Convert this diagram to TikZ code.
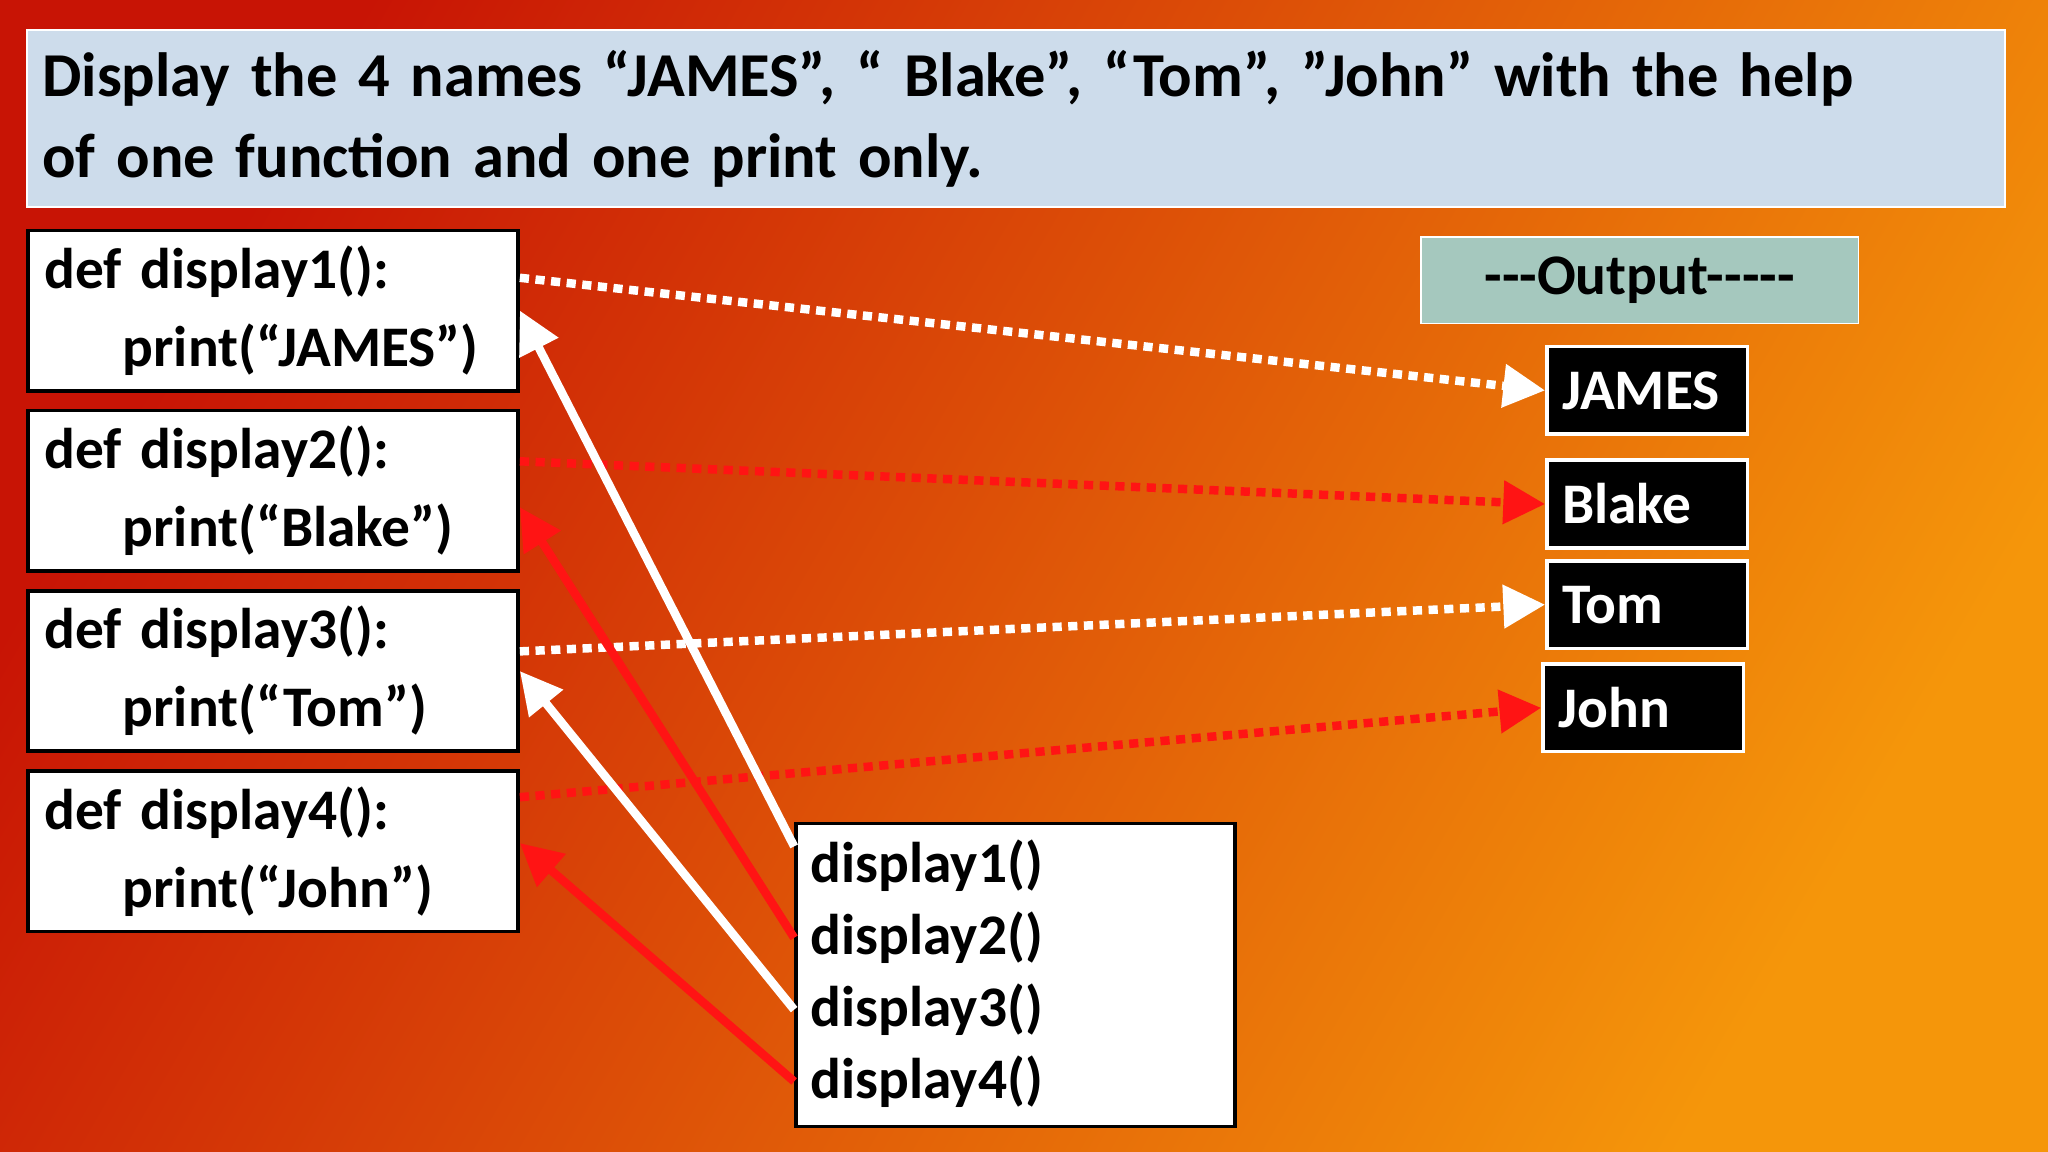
\documentclass[tikz,border=0pt]{standalone}
\usepackage{fontspec}
\setmainfont{Carlito}
\usetikzlibrary{arrows.meta, calc}

\definecolor{titleblue}{RGB}{205,220,235}
\definecolor{outgreen}{RGB}{165,200,190}
\definecolor{arrred}{RGB}{255,20,20}
\definecolor{bgred}{RGB}{200,20,5}
\definecolor{bgorange}{RGB}{245,150,10}

\begin{document}
\begin{tikzpicture}[x = 0.01cm, y = -0.01cm, % pixel-like units
                >= {Triangle[length=0.32cm, width=0.32cm]},
                every node/.style = {font = \bfseries\fontsize{12.5}{15}\selectfont},
                defbox/.style = {draw = black, fill = white, thick, minimum width = 3.75cm,
                    minimum height = 1.22cm, anchor = north west},
                outbox/.style = {draw = white, fill = black, text = white, thick,
                    minimum width = 1.5cm, minimum height = 0.67cm, anchor = north west,
                    align = left, text width = 1.3cm},
                dotline/.style = {line width = 0.065cm, dash pattern = on 0.07cm off 0.05cm, ->},
                callline/.style = {line width = 0.065cm, ->}
            ]

            % background
            \shade[left color = bgred, right color = bgorange, shading angle = 60]
                (0,0) rectangle (1568,882);

            % title
            \node (title) [draw = white, fill = titleblue, anchor = north west,
                minimum width = 15.1cm, minimum height = 1.36cm, align = left,
                text width = 14.9cm, font = \bfseries\fontsize{13.6}{17.6}\selectfont]
                at (20,22) {Display the 4 names “JAMES”, “ Blake”, “Tom”, ”John” with the help\\ of one function and one print only.};

            % function definitions
            \foreach \i/\y/\s in {1/175/“JAMES”, 2/313/“Blake”, 3/451/“Tom”, 4/589/“John”} {
                \node (d\i) [defbox, align = left, text width = 3.5cm] at (20,\y)
                    {def display\i():\\[2pt] \hspace*{0.6cm}print(\s)};
            }

            % output
            \node (out) [draw = white, fill = outgreen, anchor = north west,
                minimum width = 3.35cm, minimum height = 0.66cm] at (1087,181) {{-}{-}{-}Output{-}{-}{-}{-}{-}};
            \node (o1) [outbox] at (1183,264) {JAMES};
            \node (o2) [outbox] at (1183,351) {Blake};
            \node (o3) [outbox] at (1183,428) {Tom};
            \node (o4) [outbox] at (1180,507) {John};

            % calls
            \node (call) [draw = black, fill = white, thick, anchor = north west,
                minimum width = 3.36cm, minimum height = 2.32cm] at (608,629) {};
            \foreach \i/\y in {1/663, 2/718, 3/773, 4/828} {
                \node (c\i) [anchor = west, inner sep = 0pt] at (620,\y) {display\i()};
                \coordinate (s\i) at (608,\y);
            }

            % dotted output arrows
            \draw[dotline, white]  ($(d1.north east)!0.3!(d1.south east)$) -- (o1.west);
            \draw[dotline, arrred] ($(d2.north east)!0.32!(d2.south east)$) -- (o2.west);
            \draw[dotline, white]  ($(d3.north east)!0.38!(d3.south east)$) -- (o3.west);
            \draw[dotline, arrred] ($(d4.north east)!0.17!(d4.south east)$) -- (o4.west);

            % call arrows
            \draw[callline, white]  ($(s1)+(0,-15)$) -- ($(d1.north east)!0.5!(d1.south east)$);
            \draw[callline, arrred] (s2) -- ($(d2.north east)!0.6!(d2.south east)$);
            \draw[callline, white]  (s3) -- ($(d3.north east)!0.5!(d3.south east)$);
            \draw[callline, arrred] (s4) -- ($(d4.north east)!0.45!(d4.south east)$);
\end{tikzpicture}
\end{document}
